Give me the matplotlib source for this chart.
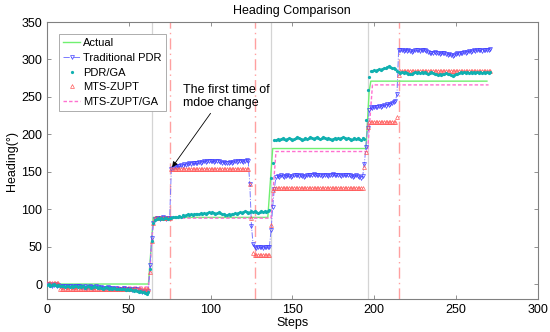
import matplotlib
matplotlib.use("Agg")
import matplotlib.pyplot as plt
import numpy as np

plt.rcParams['font.family'] = ['Liberation Sans', 'DejaVu Sans']

# ---------------- data ----------------
actual = ([0] * 63 + [30, 62] + [89] * 71 + [120, 150] + [181] * 58 +
          [220, 258] + [271] * 72)

trad_pdr = [
    0, -1, 0, -2, -1, 0, -2, -1, -3, -4,
    -2, -3, -4, -3, -2, -4, -3, -4, -3, -2,
    -3, -4, -4, -3, -5, -4, -3, -4, -5, -4,
    -3, -4, -5, -4, -5, -6, -5, -4, -5, -6,
    -5, -6, -5, -6, -6, -7, -6, -5, -6, -7,
    -6, -7, -8, -7, -6, -7, -8, -9, -10, -9,
    -11, -12, -9, 25, 61, 81, 87, 88, 88, 87,
    88, 89, 88, 87, 88, 88, 153, 155, 157, 156,
    158, 157, 159, 158, 160, 159, 160, 161, 160, 162,
    161, 162, 161, 163, 162, 163, 164, 163, 165, 164,
    165, 164, 163, 164, 165, 164, 163, 162, 163, 162,
    161, 162, 163, 162, 163, 164, 163, 164, 165, 164,
    163, 165, 166, 165, 134, 78, 53, 49, 48, 49,
    50, 49, 48, 49, 50, 49, 50, 72, 103, 127,
    143, 144, 143, 145, 144, 143, 144, 145, 144, 143,
    144, 145, 146, 145, 144, 145, 144, 143, 144, 145,
    146, 145, 146, 147, 146, 145, 146, 145, 144, 145,
    146, 145, 144, 145, 146, 147, 146, 145, 146, 145,
    144, 145, 146, 145, 146, 145, 144, 143, 144, 145,
    144, 143, 142, 144, 160, 183, 209, 232, 236, 235,
    236, 237, 236, 238, 237, 238, 239, 238, 240, 239,
    241, 242, 243, 244, 254, 313, 312, 313, 311, 312,
    311, 312, 311, 310, 311, 312, 313, 312, 311, 312,
    313, 312, 311, 310, 309, 308, 309, 310, 309, 308,
    307, 308, 309, 308, 307, 306, 307, 306, 305, 306,
    307, 308, 307, 308, 309, 310, 309, 310, 311, 310,
    311, 312, 311, 312, 313, 312, 311, 312, 313, 312,
    313, 314,
]

pdr_ga = [
    -1, 0, -2, -1, 0, -1, -2, -1, -3, -2,
    -3, -4, -2, -3, -4, -3, -4, -3, -2, -4,
    -3, -4, -3, -5, -4, -3, -4, -5, -4, -3,
    -4, -5, -4, -5, -6, -5, -4, -5, -6, -5,
    -6, -5, -6, -7, -6, -7, -6, -7, -8, -7,
    -8, -7, -8, -9, -8, -9, -10, -9, -11, -10,
    -12, -13, -10, 20, 58, 82, 86, 87, 88, 87,
    88, 87, 88, 88, 87, 88, 88, 89, 90, 89,
    90, 91, 90, 92, 91, 92, 93, 92, 93, 92,
    93, 94, 93, 94, 95, 94, 95, 94, 95, 96,
    95, 96, 95, 94, 95, 96, 95, 94, 93, 92,
    92, 93, 92, 93, 94, 95, 94, 95, 96, 95,
    96, 97, 96, 95, 96, 97, 96, 97, 96, 95,
    96, 97, 96, 97, 96, 97, 99, 141, 161, 192,
    193, 194, 193, 194, 195, 194, 193, 194, 195, 194,
    193, 194, 195, 196, 195, 194, 193, 194, 195, 194,
    195, 196, 195, 194, 195, 196, 195, 194, 195, 196,
    195, 194, 195, 194, 193, 194, 195, 194, 195, 194,
    195, 196, 195, 194, 195, 194, 193, 194, 195, 194,
    195, 194, 193, 195, 194, 219, 259, 277, 284, 285,
    286, 285, 286, 287, 286, 287, 288, 289, 290, 291,
    290, 289, 288, 287, 285, 283, 282, 283, 282, 283,
    282, 281, 280, 281, 282, 283, 282, 283, 282, 283,
    282, 283, 282, 281, 282, 283, 282, 281, 280, 279,
    280, 279, 280, 281, 282, 281, 280, 279, 278, 279,
    280, 281, 282, 283, 282, 283, 282, 283, 282, 283,
    282, 283, 282, 283, 282, 283, 282, 283, 282, 283,
    282, 283,
]

mts_zupt = ([2] * 8 + [-6] * 55 + [16, 58, 81] + [88] * 10 + [153] * 48 +
            [134, 88, 42] + [39] * 10 + [79, 125] + [128] * 55 +
            [156, 176, 210] + [216] * 17 + [223, 279] + [284] * 56)

mts_zupt_ga = ([1] * 8 + [-4] * 55 + [20, 58, 82] + [88] * 72 +
               [118, 148] + [177] * 57 + [207, 237] + [266] * 72)

mode_change_gray = [64, 137, 196]
mode_change_red = [75, 127, 215]

labels = ['Actual', 'Traditional PDR', 'PDR/GA', 'MTS-ZUPT', 'MTS-ZUPT/GA']

# ---------------- plot ----------------
fig = plt.figure(figsize=(5.5, 3.32), dpi=100)
ax = fig.add_axes([0.0855, 0.0994, 0.892, 0.8343])

for xv in mode_change_gray:
    ax.axvline(xv, color='#d4d4d4', lw=0.9, zorder=1)
for xv in mode_change_red:
    ax.axvline(xv, color='#ffa0a0', lw=1.0, ls=(0, (8, 3, 1, 3)), zorder=1)

ax.plot(np.arange(len(actual)), actual, color='#70f070', lw=1.0,
        label=labels[0], zorder=3)
ax.plot(np.arange(len(trad_pdr)), trad_pdr, color='#7a7aff', lw=0.7, ls='-.',
        marker='v', ms=2.8, mfc='none', mec='#4040ff', mew=0.5,
        label=labels[1], zorder=4)
ax.plot(np.arange(len(pdr_ga)), pdr_ga, ls='none', marker='.', ms=2.6,
        color='#10b0b0', label=labels[2], zorder=5)
ax.plot(np.arange(len(mts_zupt)), mts_zupt, ls='none', marker='^', ms=2.8,
        mfc='none', mec='#ff5a5a', mew=0.5, label=labels[3], zorder=4)
ax.plot(np.arange(len(mts_zupt_ga)), mts_zupt_ga, color='#ff70d0', lw=1.0,
        ls=(0, (2.5, 1.5)), label=labels[4], zorder=3)

ax.set_xlim(0, 300)
ax.set_ylim(-20, 350)
ax.set_xticks(np.arange(0, 301, 50))
ax.set_yticks(np.arange(0, 351, 50))
ax.tick_params(direction='in', length=3, width=0.6, top=True, right=True,
               labelsize=9, colors='#808080', labelcolor='black')
for sp in ax.spines.values():
    sp.set_color('#808080')
    sp.set_linewidth(0.8)

ax.set_title('Heading Comparison', fontsize=9, pad=6)
ax.set_xlabel('Steps', fontsize=9, labelpad=1)
ax.set_ylabel('Heading(°)', fontsize=9, labelpad=2)

leg = ax.legend(loc='upper left', bbox_to_anchor=(0.014, 0.975), fontsize=8,
                numpoints=1, handlelength=1.5, handletextpad=0.3,
                labelspacing=0.42, borderpad=0.35, fancybox=False,
                framealpha=1, edgecolor='#a0a0a0')
leg.get_frame().set_linewidth(0.6)

ax.text(83, 251, 'The first time of\nmdoe change', fontsize=9, ha='left',
        va='center', linespacing=1.1, zorder=6)
ax.annotate('', xy=(76.5, 156), xytext=(100, 228),
            arrowprops=dict(arrowstyle='-|>', color='black', lw=0.6,
                            mutation_scale=8, shrinkA=0, shrinkB=0), zorder=6)

fig.savefig('out.png', dpi=100)
